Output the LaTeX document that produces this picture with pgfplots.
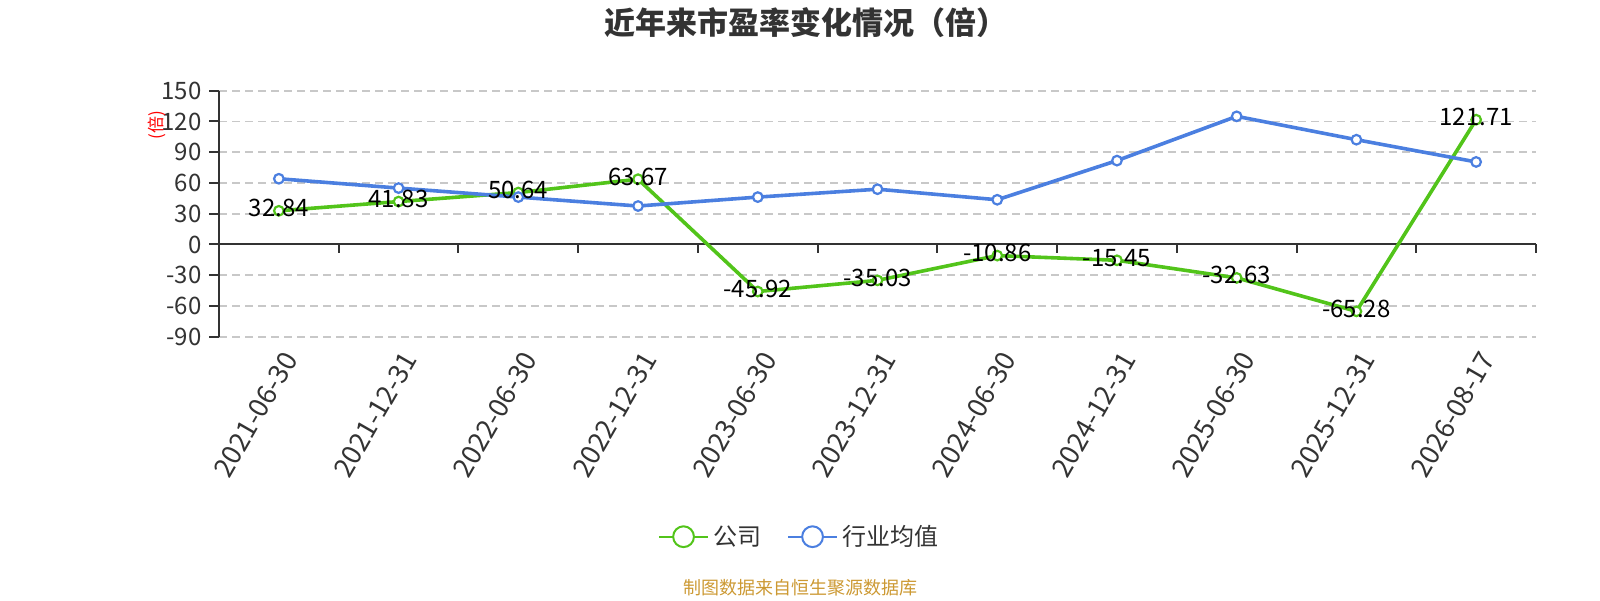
\documentclass[border=0pt]{standalone}
\usepackage{pgfplots}
\pgfplotsset{compat=1.18}
\usepackage{fontspec}
\setmainfont{Noto Sans CJK SC}
\definecolor{cgreen}{RGB}{82,196,26}
\definecolor{cblue}{RGB}{75,127,224}
\definecolor{ctext}{RGB}{51,51,51}
\definecolor{cgrid}{RGB}{200,200,200}
\definecolor{csrc}{RGB}{204,153,51}
\begin{document}
\begin{tikzpicture}
\path[use as bounding box] (0,0) rectangle (800pt,300pt);
\begin{axis}[
  at={(109.5pt,131.65pt)}, anchor=south west,
  scale only axis, width=658.5pt, height=123pt,
  xmin=-0.5, xmax=10.5, ymin=-90, ymax=150,
  clip=false,
  axis line style={draw=none},
  xtick={0,...,10},
  xticklabels={2021-06-30,2021-12-31,2022-06-30,2022-12-31,2023-06-30,2023-12-31,2024-06-30,2024-12-31,2025-06-30,2025-12-31,2026-08-17},
  ytick={-90,-60,-30,0,30,60,90,120,150},
  yticklabels={-90,-60,-30,0,30,60,90,120,150},
  xtick style={draw=none},
  ytick style={ctext, line width=1pt},
  major tick length=5pt, tick align=outside,
  ytick pos=left, xtick pos=bottom,
  ymajorgrids,
  grid style={cgrid, dash pattern=on 4pt off 2.5pt, line width=0.8pt},
  tick label style={font=\fontsize{12pt}{12pt}\selectfont, text=ctext},
  yticklabel style={anchor=east, inner sep=0pt, xshift=-3.5pt},
  xticklabel style={font=\fontsize{13.5pt}{13.5pt}\selectfont, rotate=60, anchor=east, inner sep=0pt, xshift=-0.5pt, yshift=-7pt},
  legend style={at={(0.4412,-0.813)}, anchor=center, draw=none, fill=none,
    legend columns=-1, font=\fontsize{12pt}{12pt}\selectfont, text=ctext,
    /tikz/every even column/.append style={column sep=11pt}},
  legend image code/.code={
    \draw[#1, line width=1pt] (0pt,0pt) -- (24.5pt,0pt);
    \draw[#1, line width=1pt, fill=white] (12.25pt,0pt) circle (5.2pt);
  },
]
\draw[ctext, line width=1pt] (axis cs:-0.5,-90) -- (axis cs:-0.5,150);
\draw[ctext, line width=1pt] (axis cs:-0.5,0) -- (axis cs:10.5,0);
\pgfplotsinvokeforeach{0.5,1.5,2.5,3.5,4.5,5.5,6.5,7.5,8.5,9.5,10.5}{
  \draw[ctext, line width=1pt] (axis cs:#1,0) -- ([yshift=-4.5pt]axis cs:#1,0);
}
\addplot[color=cgreen, line width=1.8pt, mark=*, mark size=2.4pt, mark options={fill=white, line width=1.1pt}]
  coordinates {(0,32.84) (1,41.83) (2,50.64) (3,63.67) (4,-45.92) (5,-35.03) (6,-10.86) (7,-15.45) (8,-32.63) (9,-65.28) (10,121.71)};
\addlegendentry{公司}
\addplot[color=cblue, line width=1.8pt, mark=*, mark size=2.4pt, mark options={fill=white, line width=1.1pt}]
  coordinates {(0,64.1) (1,55.0) (2,46.2) (3,37.5) (4,46.2) (5,53.9) (6,43.6) (7,81.8) (8,125.0) (9,102.2) (10,80.5)};
\addlegendentry{行业均值}
\addplot[draw=none, mark=none, forget plot, nodes near coords, point meta=explicit symbolic,
  every node near coord/.append style={anchor=center, yshift=1.3pt, font=\fontsize{12pt}{12pt}\selectfont, text=black, inner sep=0pt}]
  coordinates {(0,32.84)[32.84] (1,41.83)[41.83] (2,50.64)[50.64] (3,63.67)[63.67] (4,-45.92)[-45.92] (5,-35.03)[-35.03] (6,-10.86)[-10.86] (7,-15.45)[-15.45] (8,-32.63)[-32.63] (9,-65.28)[-65.28] (10,121.71)[121.71]};
\end{axis}
\node[text=ctext, font=\bfseries\fontsize{15.5pt}{15.5pt}\selectfont] at (403pt,288.5pt) {近年来市盈率变化情况（倍）};
\node[text=red, rotate=90, font=\fontsize{8.5pt}{8.5pt}\selectfont] at (78.5pt,237.5pt) {(倍)};
\node[text=csrc, font=\fontsize{9pt}{9pt}\selectfont] at (400pt,6pt) {制图数据来自恒生聚源数据库};
\end{tikzpicture}
\end{document}
